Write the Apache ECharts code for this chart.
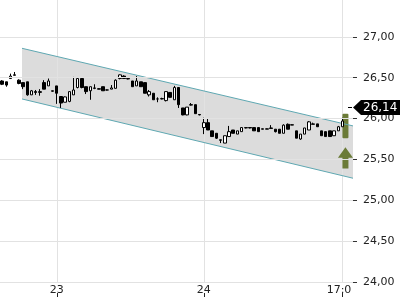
<!DOCTYPE html>
<html><head><meta charset="utf-8">
<script src="https://cdn.jsdelivr.net/npm/echarts@6/dist/echarts.min.js"></script>
<style>html,body{margin:0;padding:0;background:#fff}#c{width:400px;height:300px}</style>
</head><body><div id="c"></div>
<script>
// ---- data ----
const opens  = [26.46,26.45,26.49,26.535,26.47,26.44,26.45,26.29,26.33,26.32,26.44,26.40,26.34,26.40,26.27,26.20,26.21,26.29,26.38,26.49,26.39,26.34,26.375,26.365,26.39,26.35,26.36,26.37,26.49,26.52,26.49,26.46,26.40,26.45,26.44,26.29,26.31,26.24,26.24,26.22,26.32,26.23,26.38,26.13,26.045,26.17,26.17,26.05,25.89,25.95,25.85,25.82,25.74,25.70,25.78,25.86,25.81,25.84,25.885,25.89,25.89,25.89,25.875,25.87,25.885,25.87,25.87,25.82,25.93,25.92,25.85,25.75,25.81,25.86,25.935,25.935,25.85,25.84,25.85,25.79,25.85,25.90];
const closes = [26.42,26.41,26.52,26.53,26.43,26.39,26.29,26.34,26.32,26.33,26.36,26.46,26.335,26.31,26.19,26.265,26.33,26.35,26.49,26.38,26.33,26.39,26.37,26.36,26.34,26.35,26.375,26.47,26.535,26.49,26.485,26.39,26.46,26.39,26.31,26.33,26.23,26.24,26.245,26.33,26.26,26.38,26.17,26.045,26.14,26.165,26.06,26.045,25.95,25.86,25.78,25.76,25.735,25.79,25.84,25.82,25.85,25.89,25.89,25.885,25.85,25.84,25.87,25.875,25.88,25.84,25.82,25.92,25.87,25.925,25.76,25.81,25.885,25.96,25.93,25.90,25.79,25.78,25.78,25.85,25.90,25.97];
const lows   = [26.41,26.39,26.49,26.53,26.42,26.36,26.28,26.29,26.29,26.28,26.36,26.40,26.33,26.18,26.13,26.20,26.20,26.29,26.37,26.37,26.30,26.23,26.36,26.36,26.34,26.345,26.36,26.37,26.48,26.49,26.48,26.39,26.40,26.39,26.31,26.27,26.23,26.20,26.235,26.21,26.26,26.23,26.13,26.04,26.04,26.16,26.06,26.04,25.81,25.86,25.78,25.75,25.70,25.70,25.78,25.82,25.81,25.84,25.88,25.88,25.85,25.84,25.87,25.87,25.88,25.83,25.82,25.82,25.87,25.92,25.76,25.74,25.81,25.86,25.93,25.90,25.79,25.78,25.78,25.79,25.85,25.90];
const highs  = [26.47,26.45,26.55,26.57,26.48,26.44,26.45,26.35,26.35,26.36,26.47,26.49,26.34,26.40,26.27,26.27,26.33,26.51,26.49,26.49,26.39,26.39,26.42,26.37,26.39,26.355,26.41,26.48,26.54,26.53,26.49,26.46,26.52,26.45,26.44,26.35,26.31,26.26,26.255,26.33,26.32,26.40,26.38,26.13,26.14,26.19,26.17,26.05,26.01,26.00,25.85,25.82,25.74,25.79,25.91,25.86,25.85,25.89,25.89,25.895,25.89,25.89,25.875,25.88,25.92,25.87,25.87,25.93,25.94,25.93,25.85,25.81,25.885,25.97,25.95,25.935,25.85,25.84,25.85,25.85,25.91,26.01];
const categories = ['0','1','2','3','4','5','6','7','8','9','10','11','12','13','14','15','16','17','18','19','20','21','22','23','24','25','26','27','28','29','30','31','32','33','34','35','36','37','38','39','40','41','42','43','44','45','46','47','48','49','50','51','52','53','54','55','56','57','58','59','60','61','62','63','64','65','66','67','68','69','70','71','72','73','74','75','76','77','78','79','80','81','82','83'];
const tickIndex = [13, 48, 81];
const tickText  = ['23', '24', '17:00'];
const yMin = 24, yMax = 27.5, yStep = 0.5;
const channelX     = [5.24, 84];
const channelUpper = [26.86, 25.91];
const channelLower = [26.24, 25.27];
const signalBar   = [82.2, 25.76, 26.06];   // x, low, high
const signalArrow = [82.2, 25.39, 25.52, 25.65]; // x, bottom, head base, tip
const lastPrice = 26.14;

// ---- chart ----
const chart = echarts.init(document.getElementById('c'), null, {renderer: 'canvas'});
const FONT = 'DejaVu Sans';
const candleData = opens.map((o, i) => [o, closes[i], lows[i], highs[i]]);
const fmt = v => v.toFixed(2).replace('.', ',');

chart.setOption({
  animation: false,
  backgroundColor: '#fff',
  grid: {left: 0, top: -4, width: 353, height: 286, outerBoundsMode: 'none', containLabel: false},
  graphic: [{type: 'rect', z: 1, shape: {x: 352, y: 283, width: 48, height: 17}, style: {fill: '#fff'}}],
  xAxis: [{
    type: 'category', data: categories, boundaryGap: true, z: 0,
    axisLine: {lineStyle: {color: '#cfcfcf'}},
    axisTick: {show: false},
    splitLine: {show: false},
    axisLabel: {
      interval: (i) => tickIndex.indexOf(i) >= 0,
      formatter: (v, i) => { const k = tickIndex.indexOf(i); return k >= 0 ? tickText[k] : ''; },
      margin: 3, fontSize: 11, color: '#222', fontFamily: FONT
    }
  }, {
    type: 'value', min: 0, max: 84, show: false,
    axisLine: {show: false}, axisTick: {show: false}, axisLabel: {show: false}, splitLine: {show: false}
  }],
  yAxis: {
    type: 'value', position: 'right', min: yMin, max: yMax, interval: yStep, z: 5,
    axisLine: {show: false, onZero: false},
    axisTick: {show: true, length: 4, lineStyle: {color: '#333'}},
    splitLine: {lineStyle: {color: '#e2e2e2'}},
    axisLabel: {formatter: fmt, showMaxLabel: false, margin: 10, fontSize: 11, color: '#222', fontFamily: FONT}
  },
  series: [
    { // channel fill
      type: 'custom', xAxisIndex: 1, z: -1, silent: true,
      data: [[channelX[0], channelUpper[0], channelLower[0], channelX[1], channelUpper[1], channelLower[1]]],
      renderItem: (p, api) => {
        const a = api.coord([api.value(0), api.value(1)]);
        const b = api.coord([api.value(3), api.value(4)]);
        const c = api.coord([api.value(3), api.value(5)]);
        const d = api.coord([api.value(0), api.value(2)]);
        return {type: 'polygon', shape: {points: [a, b, c, d]}, style: {fill: '#dcdcdc'}};
      }
    },
    { // vertical grid lines + ticks under labels
      type: 'custom', xAxisIndex: 0, z: 1, silent: true, clip: false,
      data: tickIndex.map(i => [i, yMin]),
      renderItem: (p, api) => {
        const pt = api.coord([api.value(0), api.value(1)]);
        const cs = p.coordSys;
        const x = Math.round(pt[0]) + 0.5;
        return {type: 'group', children: [
          {type: 'line', shape: {x1: x, y1: cs.y, x2: x, y2: cs.y + cs.height}, style: {stroke: '#e2e2e2', lineWidth: 1}},
          {type: 'line', shape: {x1: x, y1: cs.y + cs.height + 11, x2: x, y2: cs.y + cs.height + 15}, style: {stroke: '#222', lineWidth: 1}}
        ]};
      }
    },
    {type: 'line', xAxisIndex: 1, z: 3, symbol: 'none', silent: true,
     data: [[channelX[0], channelUpper[0]], [channelX[1], channelUpper[1]]],
     lineStyle: {color: '#5fa8b2', width: 1}},
    {type: 'line', xAxisIndex: 1, z: 3, symbol: 'none', silent: true,
     data: [[channelX[0], channelLower[0]], [channelX[1], channelLower[1]]],
     lineStyle: {color: '#5fa8b2', width: 1}},
    { // signal bar + arrow
      type: 'custom', xAxisIndex: 1, z: 3, silent: true,
      data: [[signalBar[0], signalBar[1], signalBar[2], signalArrow[0], signalArrow[1], signalArrow[2], signalArrow[3]]],
      renderItem: (p, api) => {
        const lo = api.coord([api.value(0), api.value(1)]);
        const hi = api.coord([api.value(0), api.value(2)]);
        const ab = api.coord([api.value(3), api.value(4)]);
        const ah = api.coord([api.value(3), api.value(5)]);
        const at = api.coord([api.value(3), api.value(6)]);
        const cx = ab[0];
        return {type: 'group', children: [
          {type: 'rect', shape: {x: lo[0] - 3, y: hi[1], width: 6, height: lo[1] - hi[1], r: 1}, style: {fill: '#6b7b37'}},
          {type: 'polygon', shape: {points: [[cx, at[1]], [cx + 7.5, ah[1]], [cx + 3, ah[1]], [cx + 3, ab[1]], [cx - 3, ab[1]], [cx - 3, ah[1]], [cx - 7.5, ah[1]]]}, style: {fill: '#6b7b37'}}
        ]};
      }
    },
    {
      type: 'candlestick', xAxisIndex: 0, z: 4, barWidth: 3, silent: true,
      data: candleData,
      itemStyle: {color: '#ffffff', color0: '#000000', borderColor: '#000000', borderColor0: '#000000', borderWidth: 1}
    },
    { // last price tag
      type: 'custom', xAxisIndex: 1, z: 10, clip: false, silent: true,
      data: [[84, lastPrice]],
      renderItem: (p, api) => {
        const pt = api.coord([api.value(0), api.value(1)]);
        const x = pt[0], y = Math.round(pt[1]) + 0.5;
        return {type: 'group', children: [
          {type: 'line', shape: {x1: x - 5, y1: y, x2: x - 1, y2: y}, style: {stroke: '#000', lineWidth: 1}},
          {type: 'polygon', shape: {points: [[x, y], [x + 8, y - 7.5], [400, y - 7.5], [400, y + 7.5], [x + 8, y + 7.5]]}, style: {fill: '#000'}},
          {type: 'text', style: {x: x + 10, y: y, text: fmt(api.value(1)), fill: '#fff', font: '12px "DejaVu Sans"', verticalAlign: 'middle', align: 'left'}}
        ]};
      }
    }
  ]
});
</script></body></html>
